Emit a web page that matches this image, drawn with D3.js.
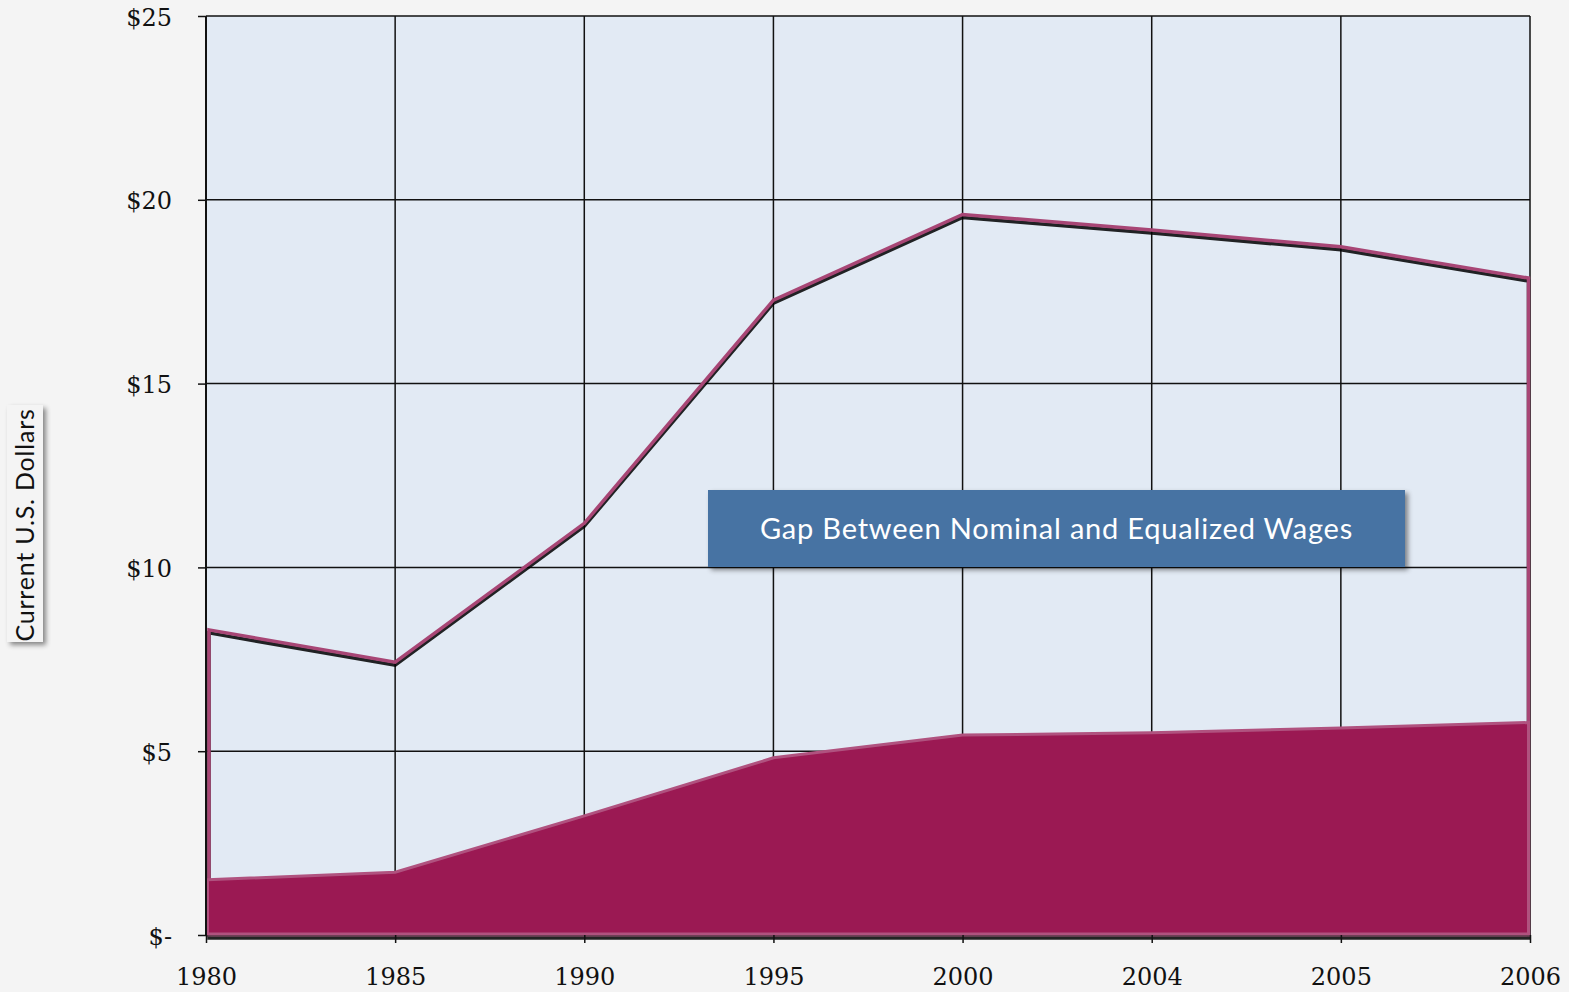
<!DOCTYPE html>
<html>
<head>
<meta charset="utf-8">
<script src="https://cdn.jsdelivr.net/npm/d3@7"></script>
<style>
  body { margin: 0; background: #f4f4f4; }
  svg { display: block; }
  .tick text { font-family: "DejaVu Serif", "Liberation Serif", serif; fill: #111; }
</style>
</head>
<body>
<script>
// values
var years = ["1980", "1985", "1990", "1995", "2000", "2004", "2005", "2006"];
var nominalWage = [8.3, 7.42, 11.2, 17.27, 19.6, 19.18, 18.72, 17.87];
var equalizedWage = [1.5, 1.71, 3.24, 4.82, 5.44, 5.5, 5.63, 5.78];
var yTicks = [0, 5, 10, 15, 20, 25];
var yTickLabels = ["$-", "$5", "$10", "$15", "$20", "$25"];
var gapLabel = "Gap Between Nominal and Equalized Wages";
var yLabel = "Current U.S. Dollars";

var width = 1569, height = 992;
var margin = {top: 16, right: 39, bottom: 57, left: 206};

var svg = d3.select("body").append("svg")
    .attr("width", width)
    .attr("height", height);

var defs = svg.append("defs");
var sh = defs.append("filter").attr("id", "boxShadow")
    .attr("x", "-10%").attr("y", "-20%").attr("width", "130%").attr("height", "160%");
sh.append("feDropShadow").attr("dx", 3).attr("dy", 3).attr("stdDeviation", 2.5)
    .attr("flood-color", "#000").attr("flood-opacity", 0.45);

var x = d3.scalePoint()
    .domain(years)
    .range([margin.left, width - margin.right]);

var y = d3.scaleLinear()
    .domain([0, 25])
    .range([height - margin.bottom, margin.top]);

var data = years.map(function(d, i) {
  return {year: d, nominal: nominalWage[i], equalized: equalizedWage[i]};
});

// plot background
svg.append("rect")
    .attr("x", x.range()[0]).attr("y", y(25))
    .attr("width", x.range()[1] - x.range()[0])
    .attr("height", y(0) - y(25))
    .attr("fill", "#e2eaf4");

// grid
svg.append("g").selectAll("line")
    .data(yTicks.slice(1))
  .enter().append("line")
    .attr("x1", x.range()[0]).attr("x2", x.range()[1])
    .attr("y1", function(d) { return y(d); })
    .attr("y2", function(d) { return y(d); })
    .attr("stroke", "#111").attr("stroke-width", 1.5);

svg.append("g").selectAll("line")
    .data(years)
  .enter().append("line")
    .attr("x1", function(d) { return x(d); })
    .attr("x2", function(d) { return x(d); })
    .attr("y1", y(0)).attr("y2", y(25))
    .attr("stroke", "#111").attr("stroke-width", 1.5);

// nominal wage outline (area from zero, no fill)
var inset = 3;
var nominalArea = d3.area()
    .x(function(d, i) {
      var px = x(d.year);
      if (i === 0) return px + inset;
      if (i === data.length - 1) return px - 1.5;
      return px;
    })
    .y0(y(0))
    .y1(function(d) { return y(d.nominal); });

svg.append("path")
    .datum(data)
    .attr("d", nominalArea)
    .attr("transform", "translate(0,3)")
    .attr("fill", "none")
    .attr("stroke", "#000")
    .attr("stroke-width", 3.5)
    .attr("opacity", 0.85)
    .style("filter", "blur(0.6px)");

svg.append("path")
    .datum(data)
    .attr("d", nominalArea)
    .attr("fill", "none")
    .attr("stroke", "#a84675")
    .attr("stroke-width", 3.5)
    .attr("stroke-linejoin", "miter");

// equalized wage area
var eqArea = d3.area()
    .x(function(d, i) {
      var px = x(d.year);
      if (i === 0) return px + 1.5;
      if (i === data.length - 1) return px - 1.5;
      return px;
    })
    .y0(y(0) - 1)
    .y1(function(d) { return y(d.equalized); });

svg.append("path")
    .datum(data)
    .attr("d", eqArea)
    .attr("fill", "#9b1953")
    .attr("stroke", "#b0527f")
    .attr("stroke-width", 3);

// axes lines
svg.append("line")
    .attr("x1", x.range()[0]).attr("x2", x.range()[0])
    .attr("y1", y(0)).attr("y2", y(25))
    .attr("stroke", "#111").attr("stroke-width", 2);
svg.append("line")
    .attr("x1", x.range()[0]).attr("x2", x.range()[1])
    .attr("y1", y(0) + 1).attr("y2", y(0) + 1)
    .attr("stroke", "#333").attr("stroke-width", 1.2);

var yAxis = d3.axisLeft(y)
    .tickValues(yTicks)
    .tickSize(8)
    .tickPadding(26)
    .tickFormat(function(d, i) { return yTickLabels[i]; });

var gy = svg.append("g")
    .attr("transform", "translate(" + x.range()[0] + ",0)")
    .call(yAxis);
gy.select(".domain").remove();
gy.selectAll(".tick line").attr("stroke", "#111").attr("stroke-width", 1.5);
gy.selectAll(".tick text").attr("font-size", 24).attr("dy", "0.38em");

var xAxis = d3.axisBottom(x)
    .tickSize(8)
    .tickPadding(25);

var gx = svg.append("g")
    .attr("transform", "translate(0," + y(0) + ")")
    .call(xAxis);
gx.select(".domain").remove();
gx.selectAll(".tick line").attr("stroke", "#111").attr("stroke-width", 1.5);
gx.selectAll(".tick text").attr("font-size", 24);

// annotation box
var boxX = 708, boxY = 490, boxW = 697, boxH = 77;
svg.append("rect")
    .attr("x", boxX).attr("y", boxY)
    .attr("width", boxW).attr("height", boxH)
    .attr("fill", "#4673a3")
    .style("filter", "url(#boxShadow)");
svg.append("text")
    .attr("x", boxX + boxW / 2).attr("y", boxY + boxH / 2)
    .attr("dy", "0.35em")
    .attr("text-anchor", "middle")
    .attr("font-family", "Lato, 'Open Sans', sans-serif")
    .attr("font-size", 29)
    .attr("letter-spacing", 0.8)
    .attr("fill", "#fff")
    .text(gapLabel);

// y axis label box
svg.append("rect")
    .attr("x", 7).attr("y", 405)
    .attr("width", 36).attr("height", 237)
    .attr("fill", "#f4f4f4")
    .style("filter", "url(#boxShadow)");
svg.append("text")
    .attr("transform", "translate(34,525) rotate(-90)")
    .attr("text-anchor", "middle")
    .attr("font-family", "Lato, 'Open Sans', sans-serif")
    .attr("font-size", 25)
    .attr("letter-spacing", 0.8)
    .attr("fill", "#111")
    .text(yLabel);
</script>
</body>
</html>
